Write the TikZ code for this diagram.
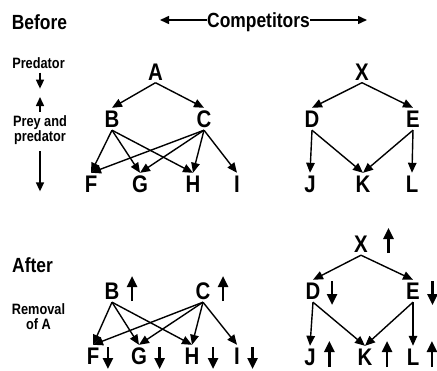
\documentclass[tikz,border=0pt]{standalone}
\usepackage{fontspec}
\setmainfont{Liberation Sans}[FakeStretch=0.85]
\usetikzlibrary{arrows.meta}

\tikzset{
  species/.style={font=\bfseries\fontsize{24}{24}\selectfont, text height=17pt, text depth=0pt, inner sep=2.5pt},
  heading/.style={font=\bfseries\fontsize{20.5}{22}\selectfont, text height=15pt, text depth=0pt, inner sep=0pt},
  side/.style={font=\bfseries\fontsize{15}{13.5}\selectfont, inner sep=0pt, align=center},
  feeds/.style={-{Triangle[length=10pt,width=8.5pt]}, line width=1.4pt},
  pointer/.style={-{Triangle[length=9pt,width=8pt]}, line width=1.5pt},
  rise/.style={-{Triangle[length=11pt,width=10pt]}, line width=2.5pt},
}

\begin{document}
\begin{tikzpicture}[x=1pt, y=-1pt]
 \useasboundingbox (0,0) rectangle (437,370);

 % headings and side labels
 \node (before) [heading] at (39.5,21.5) {Before};
 \node (after)  [heading] at (32.5,265) {After};
 \node (comp)   [heading] at (258.5,20) {Competitors};
 \coordinate (cw) at (160,20);
 \coordinate (ce) at (367,20);
 \draw [pointer] (comp.west) -- (cw);
 \draw [pointer] (comp.east) -- (ce);

 \node (pred) [side, text depth=0pt] at (38.5,63) {Predator};
 \node (prey) [side, anchor=north] at (40,115) {Prey and\\predator};
 \node (remove) [side, anchor=north, font=\bfseries\fontsize{15}{15}\selectfont] at (38.5,303) {Removal\\of A};
 \draw [pointer] ([shift={(1.5,4)}]pred.south) -- ++(0,16);
 \draw [pointer] ([shift={(0,-3)}]prey.north) -- ++(0,-15);
 \draw [pointer] ([shift={(0,7)}]prey.south) -- ++(0,40);

 % before
 \begin{scope}[every node/.style={species}]
   \node (A) at (155.5,71.5) {A};
   \node (B) at (112,119) {B};
   \node (C) at (204,119) {C};
   \node (F) at (91,184) {F};
   \node (G) at (140,184) {G};
   \node (H) at (193,184) {H};
   \node (I) at (237,184) {I};
   \node (X) at (362,71.5) {X};
   \node (D) at (312,119) {D};
   \node (E) at (413,119) {E};
   \node (J) at (310,184) {J};
   \node (K) at (363,184) {K};
   \node (L) at (412,184) {L};
   \draw (A.south) edge [feeds] (B.north);
   \draw (A.south) edge [feeds] (C.north);
   \draw (B.south) edge [feeds] (F.north);
   \draw (B.south) edge [feeds] (G.north);
   \draw (B.south) edge [feeds] (H.north);
   \draw (C.south) edge [feeds] (F.north);
   \draw (C.south) edge [feeds] (G.north);
   \draw (C.south) edge [feeds] (H.north);
   \draw (C.south) edge [feeds] (I.north);
   \draw (X.south) edge [feeds] (D.north);
   \draw (X.south) edge [feeds] (E.north);
   \draw (D.south) edge [feeds] (J.north);
   \draw (D.south) edge [feeds] (K.north);
   \draw (E.south) edge [feeds] (K.north);
   \draw (E.south) edge [feeds] (L.north);
 \end{scope}

 % after
 \begin{scope}[every node/.style={species}]
   \node (Ba) at (112,291) {B};
   \node (Ca) at (203,291) {C};
   \node (Fa) at (93,356) {F};
   \node (Ga) at (139,356) {G};
   \node (Ha) at (192,356) {H};
   \node (Ia) at (237,356) {I};
   \node (Xa) at (361,244) {X};
   \node (Da) at (313,291) {D};
   \node (Ea) at (413,291) {E};
   \node (Ja) at (310,357) {J};
   \node (Ka) at (365,357) {K};
   \node (La) at (413,357) {L};
   \draw (Ba.south) edge [feeds] (Fa.north);
   \draw (Ba.south) edge [feeds] (Ga.north);
   \draw (Ba.south) edge [feeds] (Ha.north);
   \draw (Ca.south) edge [feeds] (Fa.north);
   \draw (Ca.south) edge [feeds] (Ga.north);
   \draw (Ca.south) edge [feeds] (Ha.north);
   \draw (Ca.south) edge [feeds] (Ia.north);
   \draw (Xa.south) edge [feeds] (Da.north);
   \draw (Xa.south) edge [feeds] (Ea.north);
   \draw (Da.south) edge [feeds] (Ja.north);
   \draw (Da.south) edge [feeds] (Ka.north);
   \draw (Ea.south) edge [feeds] (Ka.north);
   \draw (Ea.south) edge [feeds] (La.north);
 \end{scope}

 % rise and fall
 \draw [rise] ([shift={(10,10)}]Ba.east) -- ++(0,-25);
 \draw [rise] ([shift={(10,10)}]Ca.east) -- ++(0,-25);
 \draw [rise] ([shift={(18,9)}]Xa.east) -- ++(0,-25);
 \draw [rise] ([shift={(9,-10)}]Da.east) -- ++(0,24);
 \draw [rise] ([shift={(10,-10)}]Ea.east) -- ++(0,24);
 \draw [rise] ([shift={(6,-9)}]Fa.east) -- ++(0,22);
 \draw [rise] ([shift={(10,-9)}]Ga.east) -- ++(0,22);
 \draw [rise] ([shift={(11,-9)}]Ha.east) -- ++(0,22);
 \draw [rise] ([shift={(10,-9)}]Ia.east) -- ++(0,22);
 \draw [rise] ([shift={(11,10)}]Ja.east) -- ++(0,-26);
 \draw [rise] ([shift={(12,10)}]Ka.east) -- ++(0,-26);
 \draw [rise] ([shift={(10,10)}]La.east) -- ++(0,-26);
\end{tikzpicture}
\end{document}
